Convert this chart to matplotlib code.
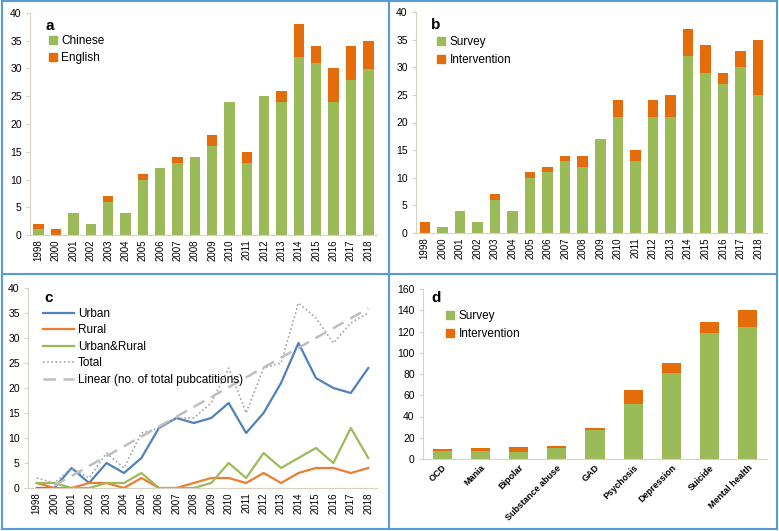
import numpy as np
import matplotlib
matplotlib.use("Agg")
import matplotlib.pyplot as plt
from matplotlib.lines import Line2D
from matplotlib.patches import Rectangle

plt.rcParams['font.family'] = ['Liberation Sans', 'DejaVu Sans']

years = ["1998", "2000", "2001", "2002", "2003", "2004", "2005", "2006", "2007", "2008",
         "2009", "2010", "2011", "2012", "2013", "2014", "2015", "2016", "2017", "2018"]

# panel a: language
chinese = [1, 0, 4, 2, 6, 4, 10, 12, 13, 14, 16, 24, 13, 25, 24, 32, 31, 24, 28, 30]
english = [1, 1, 0, 0, 1, 0, 1, 0, 1, 0, 2, 0, 2, 0, 2, 6, 3, 6, 6, 5]

# panel b: study type by year
survey_y = [0, 1, 4, 2, 6, 4, 10, 11, 13, 12, 17, 21, 13, 21, 21, 32, 29, 27, 30, 25]
interv_y = [2, 0, 0, 0, 1, 0, 1, 1, 1, 2, 0, 3, 2, 3, 4, 5, 5, 2, 3, 10]

# panel c: setting
urban = [0, 0, 4, 1, 5, 3, 6, 12, 14, 13, 14, 17, 11, 15, 21, 29, 22, 20, 19, 24]
rural = [1, 0, 0, 1, 1, 0, 2, 0, 0, 1, 2, 2, 1, 3, 1, 3, 4, 4, 3, 4]
urban_rural = [1, 1, 0, 0, 1, 1, 3, 0, 0, 0, 1, 5, 2, 7, 4, 6, 8, 5, 12, 6]
total = [2, 1, 4, 2, 7, 4, 11, 12, 14, 14, 17, 24, 15, 24, 25, 37, 34, 29, 33, 35]

# panel d: topic
topics = ["OCD", "Mania", "Bipolar", "Substance abuse", "GAD", "Psychosis",
          "Depression", "Suicide", "Mental health"]
survey_t = [8, 8, 7, 10, 27, 52, 81, 119, 124]
interv_t = [1, 2, 4, 2, 2, 13, 9, 10, 16]

GREEN = "#9BBB59"
ORANGE = "#E46C0A"
BLUE = "#4F81BD"
LORANGE = "#ED7D31"
GRAY = "#A5A5A5"
BORDER = "#5B9BD5"
AXC = "#D9D2C0"

W, H = 779, 531
fig = plt.figure(figsize=(W / 100, H / 100), dpi=100, facecolor='white')


def box(l, r, t, b):
    return [l / W, 1 - b / H, (r - l) / W, (b - t) / H]


def fx(px):
    return px / W


def fy(py):
    return 1 - py / H


def style(ax, ymax, step):
    for s in ['top', 'right']:
        ax.spines[s].set_visible(False)
    for s in ['left', 'bottom']:
        ax.spines[s].set_color(AXC)
        ax.spines[s].set_linewidth(0.8)
    ax.set_ylim(0, ymax)
    ax.set_yticks(np.arange(0, ymax + 1, step))
    ax.tick_params(axis='y', labelsize=7.5, length=3, color=AXC, pad=3)
    ax.tick_params(axis='x', length=0, pad=3)


def legend_sq(ax, label, names, colors, lab, sq, spacing):
    # lab: pixel position of panel letter, sq: left / top pixel of the legend block
    fig.text(fx(lab[0]), fy(lab[1]), label, fontsize=11, fontweight='bold',
             ha='left', va='center')
    handles = [Rectangle((0, 0), 1, 1, color=c) for c in colors]
    ax.legend(handles, names, loc='upper left', bbox_to_anchor=(fx(sq[0]), fy(sq[1])),
              bbox_transform=fig.transFigure, frameon=False, fontsize=8.5,
              handlelength=0.7, handleheight=0.7, handletextpad=0.35,
              labelspacing=spacing, borderaxespad=0, borderpad=0)


x = np.arange(len(years))

# a
ax1 = fig.add_axes(box(30, 377, 13, 235))
ax1.bar(x, chinese, width=0.6, color=GREEN)
ax1.bar(x, english, width=0.6, bottom=chinese, color=ORANGE)
ax1.set_xlim(-0.5, len(years) - 0.5)
style(ax1, 40, 5)
ax1.set_xticks(x)
ax1.set_xticklabels(years, rotation=90, fontsize=7)
legend_sq(ax1, "a", ["Chinese", "English"], [GREEN, ORANGE], (45, 26), (49, 35), 0.45)

# b
ax2 = fig.add_axes(box(416, 767, 12, 233))
ax2.bar(x, survey_y, width=0.6, color=GREEN)
ax2.bar(x, interv_y, width=0.6, bottom=survey_y, color=ORANGE)
ax2.set_xlim(-0.5, len(years) - 0.5)
style(ax2, 40, 5)
ax2.set_xticks(x)
ax2.set_xticklabels(years, rotation=90, fontsize=7)
legend_sq(ax2, "b", ["Survey", "Intervention"], [GREEN, ORANGE], (431, 25), (437, 36), 0.55)

# c
ax3 = fig.add_axes(box(28, 377, 288, 488))
ax3.plot(x, urban, color=BLUE, lw=1.6, label="Urban")
ax3.plot(x, rural, color=LORANGE, lw=1.6, label="Rural")
ax3.plot(x, urban_rural, color=GREEN, lw=1.6, label="Urban&Rural")
ax3.plot(x, total, color=GRAY, lw=1.2, ls=(0, (1, 1.5)), label="Total")
coef = np.polyfit(x, total, 1)
ax3.plot(x, np.polyval(coef, x), color="#BFBFBF", lw=1.8, ls=(0, (5, 3)),
         label="Linear (no. of total pubcatitions)")
ax3.set_xlim(-0.5, len(years) - 0.5)
style(ax3, 40, 5)
ax3.set_xticks(x)
ax3.set_xticklabels(years, rotation=90, fontsize=7)
fig.text(fx(44), fy(298), "c", fontsize=11, fontweight='bold', ha='left', va='center')
ax3.legend(loc='upper left', bbox_to_anchor=(fx(43), fy(308)), bbox_transform=fig.transFigure,
           frameon=False, fontsize=8.5, handlelength=2.6, handletextpad=0.35,
           labelspacing=0.38, borderaxespad=0, borderpad=0)

# d
xd = np.arange(len(topics))
ax4 = fig.add_axes(box(423, 767, 289, 459))
ax4.bar(xd, survey_t, width=0.5, color=GREEN)
ax4.bar(xd, interv_t, width=0.5, bottom=survey_t, color=ORANGE)
ax4.set_xlim(-0.5, len(topics) - 0.5)
style(ax4, 160, 20)
ax4.set_xticks(xd)
ax4.set_xticklabels(topics, rotation=45, ha='right', rotation_mode='anchor',
                    fontsize=6.5, fontweight='bold')
legend_sq(ax4, "d", ["Survey", "Intervention"], [GREEN, ORANGE], (431, 298), (446, 310), 0.55)

# panel borders
for seg in [((2, 777), (1, 1)), ((2, 777), (529, 529)), ((2, 2), (1, 529)),
            ((777, 777), (1, 529)), ((389, 389), (1, 529)), ((2, 777), (274, 274))]:
    fig.add_artist(Line2D([fx(v) for v in seg[0]], [fy(v) for v in seg[1]],
                          color=BORDER, lw=1.5))

plt.savefig("out.png", dpi=100)
plt.close(fig)
